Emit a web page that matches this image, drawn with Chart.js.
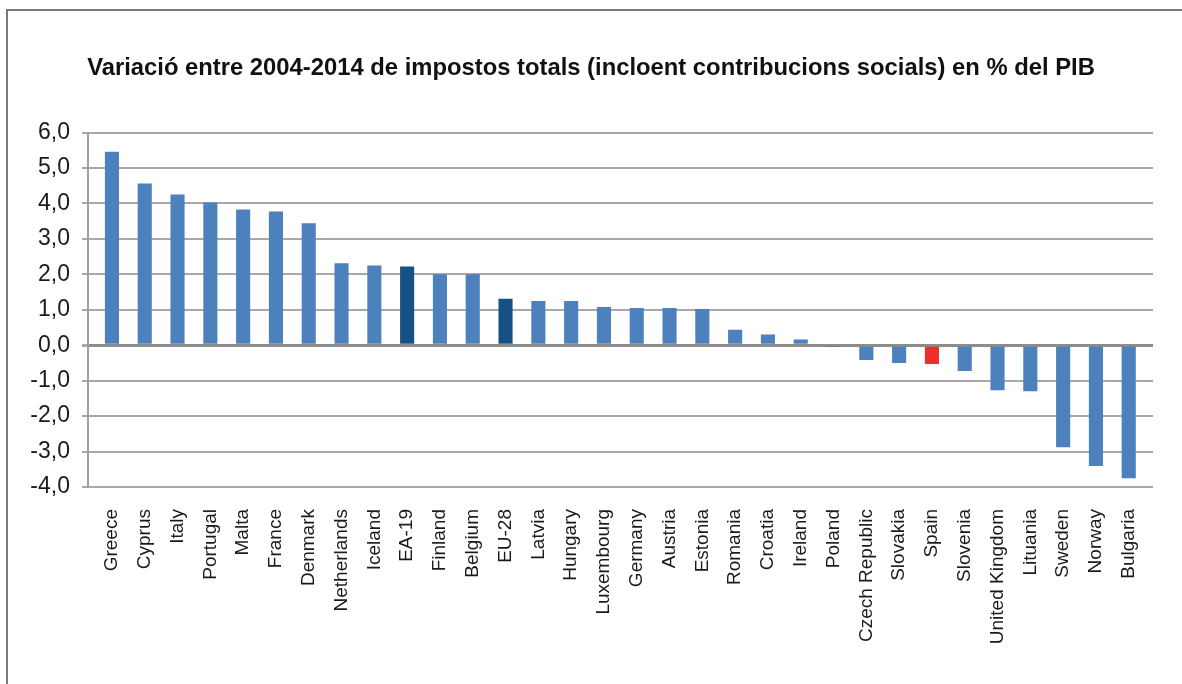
<!DOCTYPE html>
<html>
<head>
<meta charset="utf-8">
<script src="https://cdn.jsdelivr.net/npm/chart.js@4/dist/chart.umd.min.js"></script>
<style>
  html, body { margin: 0; padding: 0; background: #fff; }
  #wrap { position: relative; width: 1182px; height: 684px; overflow: hidden; }
  #frame { position: absolute; left: 6px; top: 9px; width: 1200px; height: 700px;
           border-left: 2px solid #7a7a7a; border-top: 2px solid #7a7a7a; pointer-events: none; }
  canvas { position: absolute; left: 0; top: 0; }
</style>
</head>
<body>
<div id="wrap">
  <canvas id="c" width="1182" height="684"></canvas>
  <div id="frame"></div>
</div>
<script>
const titleText = 'Variació entre 2004-2014 de impostos totals (incloent contribucions socials) en % del PIB';
const categories = ['Greece','Cyprus','Italy','Portugal','Malta','France','Denmark','Netherlands','Iceland','EA-19',
  'Finland','Belgium','EU-28','Latvia','Hungary','Luxembourg','Germany','Austria','Estonia','Romania',
  'Croatia','Ireland','Poland','Czech Republic','Slovakia','Spain','Slovenia','United Kingdom','Lituania','Sweden',
  'Norway','Bulgaria'];
const values = [5.46, 4.56, 4.25, 4.03, 3.83, 3.77, 3.44, 2.31, 2.25, 2.22,
  2.00, 2.00, 1.31, 1.25, 1.25, 1.08, 1.05, 1.05, 1.02, 0.44,
  0.30, 0.16, -0.02, -0.42, -0.50, -0.53, -0.73, -1.27, -1.30, -2.88,
  -3.41, -3.75];
const aggregates = ['EA-19', 'EU-28'];
const highlight = ['Spain'];
const yTicks = [-4, -3, -2, -1, 0, 1, 2, 3, 4, 5, 6];

const BLUE = '#4c81be', DARK = '#155185', RED = '#ee2e2b';
const colors = categories.map(c => highlight.includes(c) ? RED : (aggregates.includes(c) ? DARK : BLUE));
const points = values.map((v, i) => ({ x: i, y: v }));

new Chart(document.getElementById('c'), {
  type: 'bar',
  data: {
    datasets: [{
      data: points,
      backgroundColor: colors,
      borderWidth: 0,
      barPercentage: 0.43,
      categoryPercentage: 1.0
    }]
  },
  options: {
    responsive: false,
    animation: false,
    layout: { padding: { top: 10, right: 0, left: 0, bottom: 0 } },
    plugins: {
      legend: { display: false },
      tooltip: { enabled: false },
      title: {
        display: true,
        text: titleText,
        color: '#111',
        font: { family: 'Liberation Sans, Arial, sans-serif', size: 23.8, weight: 'bold' },
        padding: { top: 44, bottom: 50 }
      }
    },
    scales: {
      x: {
        type: 'linear',
        offset: false,
        min: -0.73,
        max: 31.74,
        grid: { display: false, drawTicks: false, offset: false },
        border: { display: false },
        afterBuildTicks: s => { s.ticks = categories.map((_, i) => ({ value: i })); },
        afterFit: s => { s.height = 197; },
        ticks: {
          autoSkip: false,
          minRotation: 90,
          maxRotation: 90,
          padding: 22,
          color: '#1a1a1a',
          font: { family: 'Liberation Sans, Arial, sans-serif', size: 19 },
          callback: v => categories[v]
        }
      },
      y: {
        min: -4,
        max: 6,
        afterBuildTicks: s => { s.ticks = yTicks.map(v => ({ value: v })); },
        afterFit: s => { s.width = 88; },
        border: { display: true, color: '#a0a0a0', width: 2 },
        grid: {
          color: c => c.tick && c.tick.value === 0 ? '#8c8c8c' : '#a8a8a8',
          lineWidth: c => c.tick && c.tick.value === 0 ? 3 : 2,
          tickLength: 6,
          tickColor: '#a8a8a8'
        },
        ticks: {
          padding: 12,
          color: '#1a1a1a',
          font: { family: 'Liberation Sans, Arial, sans-serif', size: 23 },
          callback: v => v.toFixed(1).replace('.', ',')
        }
      },
      yRight: {
        position: 'right',
        min: -4,
        max: 6,
        grid: { display: false, drawTicks: false },
        border: { display: false },
        ticks: { display: false },
        afterFit: s => { s.width = 29; }
      }
    }
  }
});
</script>
</body>
</html>
